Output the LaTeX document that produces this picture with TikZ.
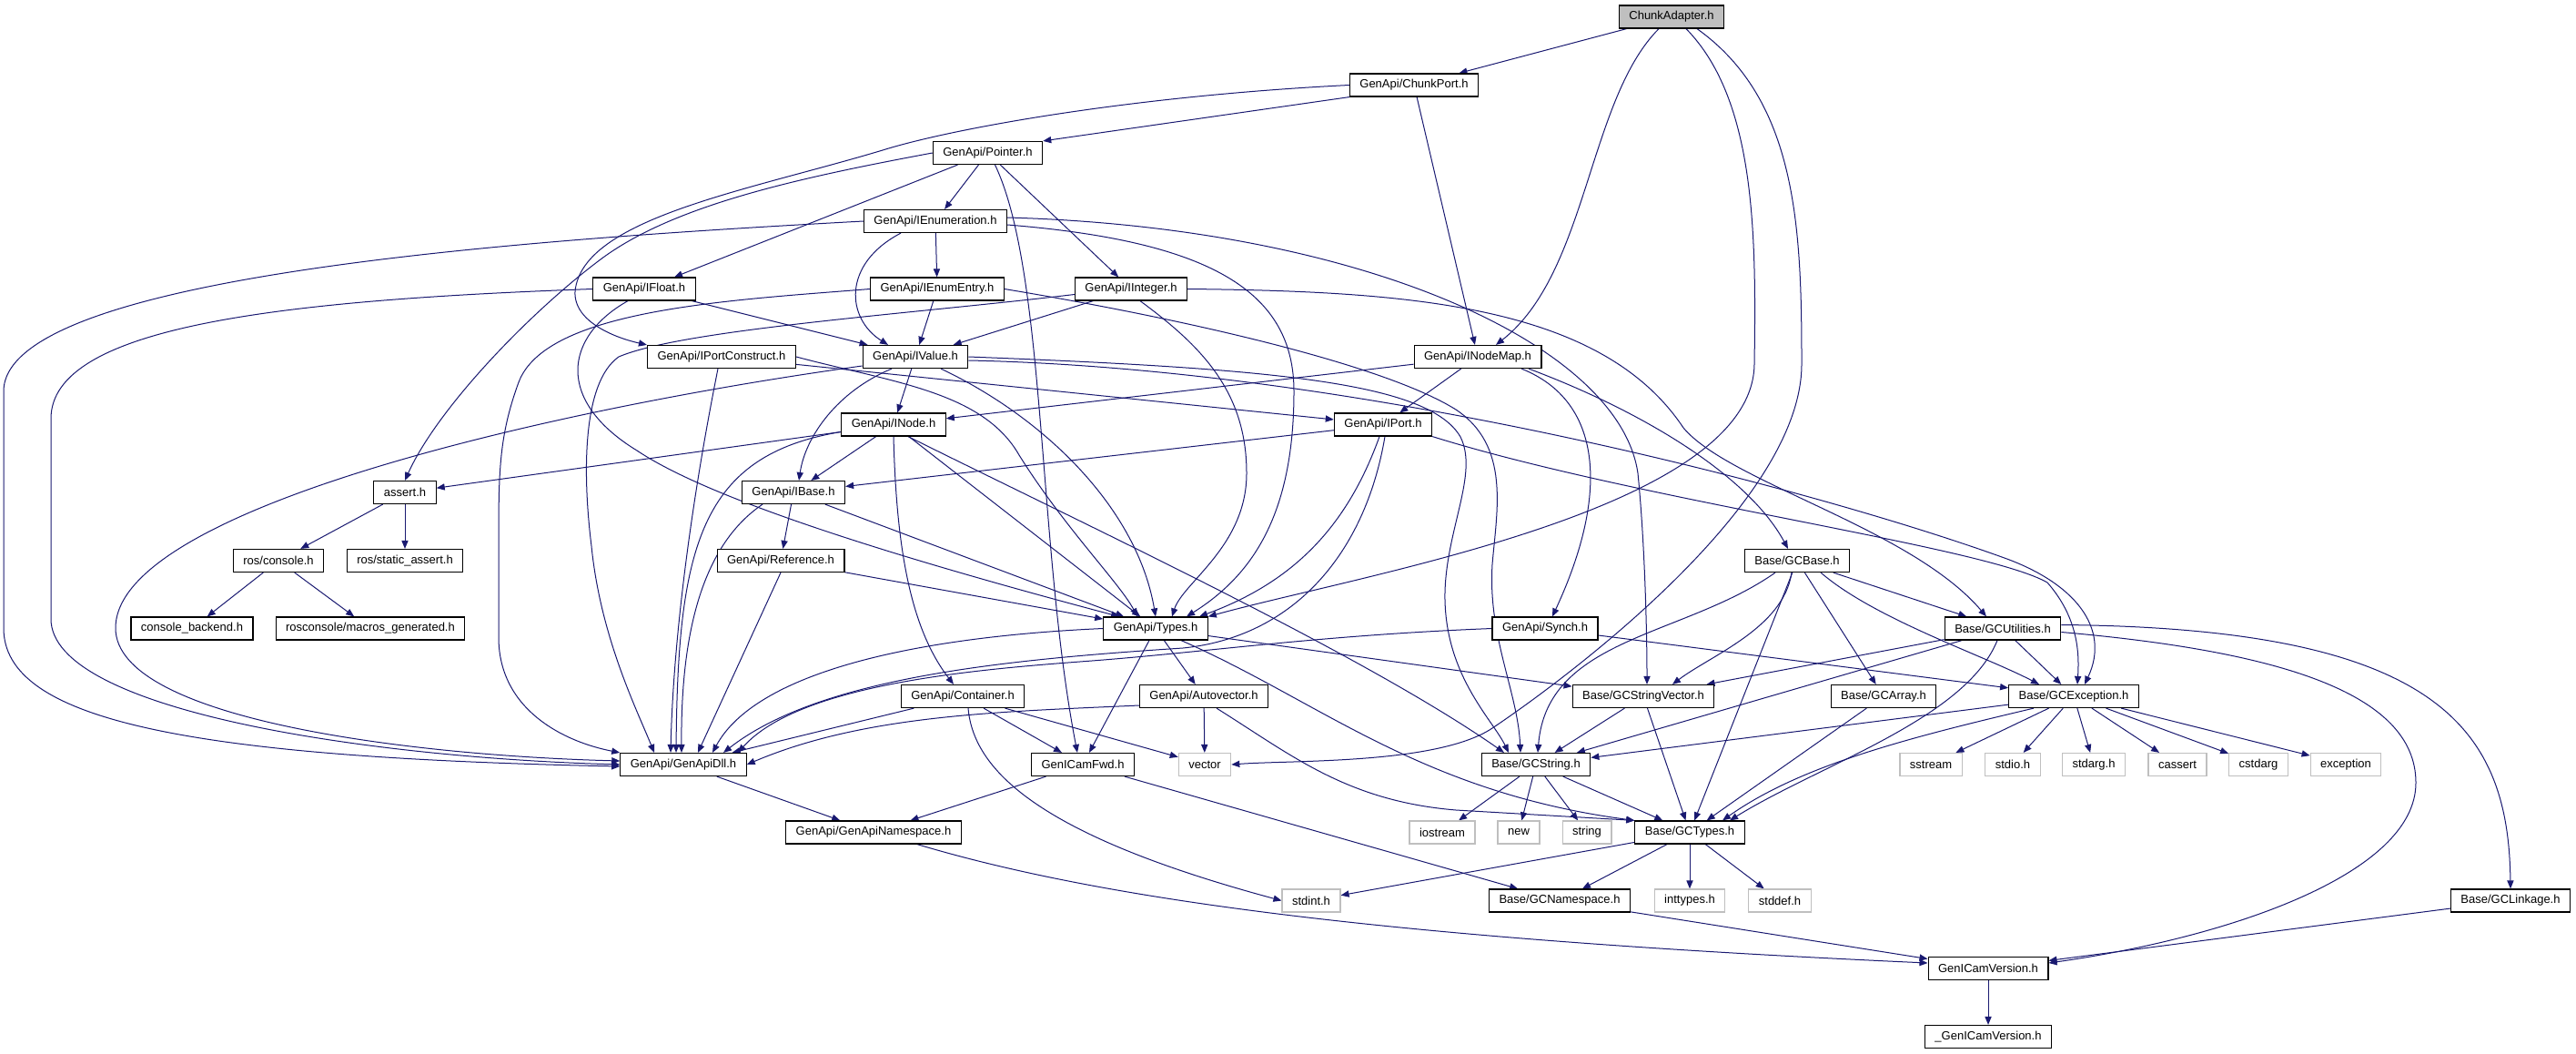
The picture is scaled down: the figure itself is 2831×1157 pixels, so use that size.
\documentclass[tikz,border=0pt]{standalone}
\usepackage{fontspec}
\newfontfamily\doxfont{Liberation Sans}
\usetikzlibrary{arrows.meta,backgrounds}
\definecolor{edgeblue}{HTML}{191970}
\definecolor{sysgray}{HTML}{BFBFBF}
\definecolor{rootgray}{HTML}{BFBFBF}
\begin{document}
\begin{tikzpicture}[x=0.5pt, y=-0.5pt, >={Triangle[length=4.5pt,width=3.6pt]},
    hdr/.style={draw=black, line width=0.6pt, fill=white,
      font={\doxfont\fontsize{6.5}{7.5}\selectfont},
      minimum height=12.5pt, inner xsep=5.5pt, inner ysep=0pt},
    syshdr/.style={hdr, draw=sysgray},
    roothdr/.style={hdr, fill=rootgray},
    dep/.style={->, color=edgeblue, line width=0.5pt}]
  \useasboundingbox (0,0) rectangle (2831,1157);
  % Header files
  \node[roothdr] (CA) at (1837,18.5) {ChunkAdapter.h};
  \node[hdr] (CPORT) at (1554,93.5) {GenApi/ChunkPort.h};
  \node[hdr] (PTR) at (1085.5,168) {GenApi/Pointer.h};
  \node[hdr] (IENUM) at (1028,243) {GenApi/IEnumeration.h};
  \node[hdr] (IFLOAT) at (708,317.5) {GenApi/IFloat.h};
  \node[hdr] (IENTRY) at (1030,317.5) {GenApi/IEnumEntry.h};
  \node[hdr] (IINT) at (1243,317.5) {GenApi/IInteger.h};
  \node[hdr] (IPC) at (793,392) {GenApi/IPortConstruct.h};
  \node[hdr] (IVAL) at (1006,392) {GenApi/IValue.h};
  \node[hdr] (INMAP) at (1624,392) {GenApi/INodeMap.h};
  \node[hdr] (INODE) at (982,466.5) {GenApi/INode.h};
  \node[hdr] (IPORT) at (1520,466.5) {GenApi/IPort.h};
  \node[hdr] (ASSRT) at (445,541) {assert.h};
  \node[hdr] (IBASE) at (872,541) {GenApi/IBase.h};
  \node[hdr] (ROSCON) at (306,616) {ros/console.h};
  \node[hdr] (ROSSA) at (445,616) {ros/static\_assert.h};
  \node[hdr] (REF) at (858,616) {GenApi/Reference.h};
  \node[hdr] (GCBASE) at (1975,616) {Base/GCBase.h};
  \node[hdr] (CBK) at (211,690.5) {console\_backend.h};
  \node[hdr] (MACROS) at (407,690.5) {rosconsole/macros\_generated.h};
  \node[hdr] (TYPES) at (1270,690.5) {GenApi/Types.h};
  \node[hdr] (SYNCH) at (1698,690.5) {GenApi/Synch.h};
  \node[hdr] (GCUTIL) at (2201,690.5) {Base/GCUtilities.h};
  \node[hdr] (CONT) at (1058,765) {GenApi/Container.h};
  \node[hdr] (AVEC) at (1323,765) {GenApi/Autovector.h};
  \node[hdr] (GCSV) at (1806,765) {Base/GCStringVector.h};
  \node[hdr] (GCARR) at (2070,765) {Base/GCArray.h};
  \node[hdr] (GCEXC) at (2279,765) {Base/GCException.h};
  \node[hdr] (DLL) at (751,840) {GenApi/GenApiDll.h};
  \node[hdr] (FWD) at (1190,840) {GenICamFwd.h};
  \node[syshdr] (VEC) at (1324,840) {vector};
  \node[hdr] (GCSTR) at (1688,840) {Base/GCString.h};
  \node[syshdr] (SSTR) at (2122,840) {sstream};
  \node[syshdr] (STDIO) at (2212,840) {stdio.h};
  \node[syshdr] (STDARG) at (2301,840) {stdarg.h};
  \node[syshdr] (CASSERT) at (2393,840) {cassert};
  \node[syshdr] (CSTDARG) at (2482,840) {cstdarg};
  \node[syshdr] (EXCP) at (2578,840) {exception};
  \node[hdr] (NS) at (960,914.5) {GenApi/GenApiNamespace.h};
  \node[syshdr] (IOSTR) at (1585,914.5) {iostream};
  \node[syshdr] (NEW) at (1669,914.5) {new};
  \node[syshdr] (STR) at (1744,914.5) {string};
  \node[hdr] (GCTYPES) at (1857,914.5) {Base/GCTypes.h};
  \node[syshdr] (STDINT) at (1441,989.5) {stdint.h};
  \node[hdr] (GCNS) at (1714,989.5) {Base/GCNamespace.h};
  \node[syshdr] (INTTYPES) at (1857,989.5) {inttypes.h};
  \node[syshdr] (STDDEF) at (1956,989.5) {stddef.h};
  \node[hdr] (GCLINK) at (2759,989.5) {Base/GCLinkage.h};
  \node[hdr] (VER) at (2185,1064) {GenICamVersion.h};
  \node[hdr] (UVER) at (2185,1139) {\_GenICamVersion.h};
  \begin{scope}[on background layer]
    % ChunkAdapter.h
    \draw[dep] (CA) -- (CPORT);
    \draw[dep] ([xshift=-7pt]CA.south) .. controls (1745,110) and (1745,300) .. ([xshift=10pt]INMAP.north);
    \draw[dep] ([xshift=8pt]CA.south) .. controls (1930,110) and (1930,260) .. (1928,400) .. controls (1926,560) and (1500,630) .. (TYPES.north east);
    \draw[dep] ([xshift=14pt]CA.south) .. controls (1975,110) and (1980,250) .. (1980,400) .. controls (1980,560) and (1700,760) .. (1640,800) .. controls (1580,840) and (1420,835) .. (VEC.east);
    % ChunkPort.h
    \draw[dep] (CPORT.south west) -- (PTR.north east);
    \draw[dep] (CPORT) -- (INMAP);
    \draw[dep] (CPORT.west) .. controls (1250,105) and (1050,140) .. (970,165) .. controls (820,210) and (640,240) .. (632,320) .. controls (630,355) and (680,372) .. (IPC.north west);
    % Pointer.h
    \draw[dep] (PTR) -- (IENUM);
    \draw[dep] (PTR) -- (IINT);
    \draw[dep] (PTR) -- (IFLOAT);
    \draw[dep] ([xshift=4pt]PTR.south) .. controls (1150,300) and (1140,600) .. ([xshift=-3pt]FWD.north);
    \draw[dep] (PTR.west) .. controls (880,195) and (740,225) .. (660,285) .. controls (580,345) and (480,450) .. (ASSRT.north);
    % IEnumeration.h
    \draw[dep] (IENUM) -- (IENTRY);
    \draw[dep] ([xshift=-19pt]IENUM.south) .. controls (925,290) and (930,350) .. ([xshift=-15pt]IVAL.north);
    \draw[dep] (IENUM.west) .. controls (600,262) and (4,300) .. (4,430) -- (4,690) .. controls (4,790) and (200,832) .. ([yshift=-1pt]DLL.west);
    \draw[dep] ([yshift=-2pt]IENUM.east) .. controls (1330,265) and (1422,320) .. (1422,430) .. controls (1422,560) and (1380,630) .. ([xshift=17pt]TYPES.north);
    \draw[dep] ([yshift=2pt]IENUM.east) .. controls (1500,250) and (1780,380) .. (1800,520) .. controls (1808,600) and (1810,700) .. ([xshift=2pt]GCSV.north);
    % IFloat.h
    \draw[dep] (IFLOAT) -- (IVAL);
    \draw[dep] (IFLOAT.west) .. controls (300,330) and (56,360) .. (56,460) -- (56,680) .. controls (56,780) and (400,832) .. (DLL.west);
    \draw[dep] ([xshift=-9pt]IFLOAT.south) .. controls (620,370) and (610,440) .. (700,495) .. controls (760,535) and (900,590) .. ([xshift=-20pt]TYPES.north);
    % IEnumEntry.h
    \draw[dep] (IENTRY) -- (IVAL);
    \draw[dep] (IENTRY.west) .. controls (800,330) and (600,340) .. (570,420) .. controls (548,480) and (548,520) .. (548,600) -- (548,700) .. controls (548,780) and (620,815) .. (DLL.north west);
    \draw[dep] (IENTRY.east) .. controls (1300,350) and (1520,400) .. (1600,450) .. controls (1660,490) and (1645,560) .. (1640,620) .. controls (1635,700) and (1668,760) .. ([xshift=-8.5pt]GCSTR.north);
    % IInteger.h
    \draw[dep] (IINT) -- (IVAL);
    \draw[dep] ([xshift=5pt]IINT.south) .. controls (1320,380) and (1370,430) .. (1370,520) .. controls (1370,600) and (1300,640) .. ([xshift=9pt]TYPES.north);
    \draw[dep] (IINT.east) .. controls (1550,320) and (1760,335) .. (1850,470) .. controls (1900,530) and (2100,580) .. ([xshift=-9pt]GCUTIL.north);
    \draw[dep] ([yshift=-3pt]IINT.west) .. controls (1000,345) and (750,362) .. (680,392) .. controls (640,420) and (640,520) .. (650,600) .. controls (660,700) and (700,780) .. ([xshift=-16pt]DLL.north);
    % IPortConstruct.h
    \draw[dep] ([xshift=-2pt]IPC.south) .. controls (760,550) and (740,700) .. ([xshift=-7pt]DLL.north);
    \draw[dep] (IPC) -- (IPORT);
    \draw[dep] (IPC.east) .. controls (980,420) and (1080,430) .. (1120,500) .. controls (1170,580) and (1230,640) .. ([xshift=-10pt]TYPES.north);
    % IValue.h
    \draw[dep] (IVAL) -- (INODE);
    \draw[dep] ([xshift=-13pt]IVAL.south) .. controls (920,430) and (885,480) .. ([xshift=3pt]IBASE.north);
    \draw[dep] ([xshift=14pt]IVAL.south) .. controls (1150,460) and (1250,560) .. (TYPES.north);
    \draw[dep] ([yshift=-5pt]IVAL.west) .. controls (600,450) and (127,560) .. (127,690) .. controls (127,790) and (450,830) .. ([yshift=2pt]DLL.west);
    \draw[dep] (IVAL.east) .. controls (1400,405) and (1570,420) .. (1605,480) .. controls (1625,520) and (1590,580) .. (1588,650) .. controls (1586,740) and (1640,790) .. ([xshift=-15pt]GCSTR.north);
    \draw[dep] ([yshift=-2pt]IVAL.east) .. controls (1500,405) and (2000,540) .. (2200,612) .. controls (2280,640) and (2320,690) .. ([xshift=6pt]GCEXC.north);
    % INodeMap.h
    \draw[dep] (INMAP) -- (INODE);
    \draw[dep] (INMAP) -- (IPORT);
    \draw[dep] ([xshift=24pt]INMAP.south) .. controls (1760,440) and (1770,540) .. ([xshift=4pt]SYNCH.north);
    \draw[dep] ([xshift=28pt]INMAP.south) .. controls (1800,450) and (1920,520) .. ([xshift=-5pt]GCBASE.north);
    % INode.h
    \draw[dep] (INODE) -- (IBASE);
    \draw[dep] (INODE.south) .. controls (985,600) and (1000,690) .. ([xshift=-5pt]CONT.north);
    \draw[dep] (INODE) -- (TYPES);
    \draw[dep] (INODE) -- (ASSRT);
    \draw[dep] ([yshift=-4pt]INODE.west) .. controls (770,500) and (745,600) .. ([xshift=-4pt]DLL.north);
    \draw[dep] ([xshift=8pt]INODE.south) .. controls (1200,580) and (1500,720) .. ([xshift=-17.5pt]GCSTR.north);
    % IBase.h and Reference.h
    \draw[dep] (IBASE) -- (REF);
    \draw[dep] (IBASE) -- (TYPES);
    \draw[dep] ([xshift=-17pt]IBASE.south) .. controls (770,600) and (748,700) .. ([xshift=-1pt]DLL.north);
    \draw[dep] (REF) -- (TYPES);
    \draw[dep] (REF.south) -- ([xshift=8pt]DLL.north);
    % IPort.h
    \draw[dep] (IPORT) -- (IBASE);
    \draw[dep] ([xshift=-2pt]IPORT.south) .. controls (1480,580) and (1420,640) .. ([xshift=24pt]TYPES.north);
    \draw[dep] ([xshift=1pt]IPORT.south) .. controls (1500,610) and (1420,700) .. (1300,712) .. controls (1100,725) and (900,745) .. ([xshift=22pt]DLL.north);
    \draw[dep] (IPORT.south east) .. controls (1800,550) and (2180,600) .. (2250,640) .. controls (2285,680) and (2285,720) .. ([xshift=2pt]GCEXC.north);
    % Types.h
    \draw[dep] (TYPES) -- (AVEC);
    \draw[dep] (TYPES) -- (FWD);
    \draw[dep] (TYPES.west) .. controls (1000,700) and (830,740) .. ([xshift=16pt]DLL.north);
    \draw[dep] (TYPES) -- (GCSV);
    \draw[dep] ([xshift=14pt]TYPES.south) .. controls (1450,770) and (1560,870) .. (GCTYPES.north west);
    % Synch.h
    \draw[dep] (SYNCH) -- (GCEXC);
    \draw[dep] (SYNCH.west) .. controls (1450,698) and (1330,716) .. (1200,726) .. controls (1080,735) and (880,750) .. ([xshift=30pt]DLL.north);
    % Container.h and Autovector.h
    \draw[dep] (CONT) -- (DLL);
    \draw[dep] (CONT) -- (FWD);
    \draw[dep] (CONT) -- (VEC);
    \draw[dep] ([xshift=3pt]CONT.south) .. controls (1070,850) and (1150,920) .. (STDINT.west);
    \draw[dep] (AVEC) -- (VEC);
    \draw[dep] ([yshift=-5pt]AVEC.west) .. controls (1100,782) and (950,785) .. (DLL.east);
    \draw[dep] ([xshift=7pt]AVEC.south) .. controls (1420,830) and (1480,880) .. (1600,890) -- (GCTYPES.north west);
    % GenApiDll.h, GenICamFwd.h, GenApiNamespace.h
    \draw[dep] (DLL) -- (NS);
    \draw[dep] (FWD) -- (NS);
    \draw[dep] (FWD) -- (GCNS);
    \draw[dep] ([xshift=24pt]NS.south) .. controls (1200,985) and (1500,1030) .. ([yshift=3pt]VER.west);
    % Base/GCBase.h
    \draw[dep] ([xshift=-12pt]GCBASE.south) .. controls (1850,700) and (1700,700) .. ([xshift=1pt]GCSTR.north);
    \draw[dep] ([xshift=-3pt]GCBASE.south) .. controls (1960,690) and (1880,720) .. ([xshift=16pt]GCSV.north);
    \draw[dep] (GCBASE) -- (GCTYPES);
    \draw[dep] (GCBASE) -- (GCARR);
    \draw[dep] ([xshift=13pt]GCBASE.south) .. controls (2060,680) and (2180,720) .. ([xshift=-19pt]GCEXC.north);
    \draw[dep] (GCBASE) -- (GCUTIL);
    % Base/GCUtilities.h
    \draw[dep] (GCUTIL) -- (GCEXC);
    \draw[dep] (GCUTIL) -- (GCSV);
    \draw[dep] (GCUTIL) -- (GCSTR);
    \draw[dep] ([xshift=-3pt]GCUTIL.south) .. controls (2160,790) and (2000,840) .. ([xshift=22pt]GCTYPES.north);
    \draw[dep] ([yshift=2pt]GCUTIL.east) .. controls (2680,690) and (2757,800) .. (GCLINK.north);
    \draw[dep] ([yshift=-2pt]GCUTIL.east) .. controls (2500,715) and (2655,760) .. (2655,860) .. controls (2655,960) and (2450,1030) .. ([yshift=3pt]VER.east);
    % Base/GCException.h
    \draw[dep] (GCEXC) -- (SSTR);
    \draw[dep] (GCEXC) -- (STDIO);
    \draw[dep] (GCEXC) -- (STDARG);
    \draw[dep] (GCEXC) -- (CASSERT);
    \draw[dep] (GCEXC) -- (CSTDARG);
    \draw[dep] (GCEXC) -- (EXCP);
    \draw[dep] (GCEXC) -- (GCSTR);
    \draw[dep] ([xshift=-22pt]GCEXC.south) .. controls (2100,810) and (1980,840) .. ([xshift=18pt]GCTYPES.north);
    % Base strings and types
    \draw[dep] (GCSV) -- (GCSTR);
    \draw[dep] (GCSV) -- (GCTYPES);
    \draw[dep] (GCARR) -- (GCTYPES);
    \draw[dep] (GCSTR) -- (IOSTR);
    \draw[dep] (GCSTR) -- (NEW);
    \draw[dep] (GCSTR) -- (STR);
    \draw[dep] (GCSTR) -- (GCTYPES);
    \draw[dep] (GCTYPES) -- (STDINT);
    \draw[dep] (GCTYPES) -- (GCNS);
    \draw[dep] (GCTYPES) -- (INTTYPES);
    \draw[dep] (GCTYPES) -- (STDDEF);
    % Version headers
    \draw[dep] (GCNS) -- (VER);
    \draw[dep] (GCLINK) -- (VER);
    \draw[dep] (VER) -- (UVER);
    % assert.h
    \draw[dep] (ASSRT) -- (ROSCON);
    \draw[dep] (ASSRT) -- (ROSSA);
    \draw[dep] (ROSCON) -- (CBK);
    \draw[dep] (ROSCON) -- (MACROS);
  \end{scope}
\end{tikzpicture}
\end{document}
